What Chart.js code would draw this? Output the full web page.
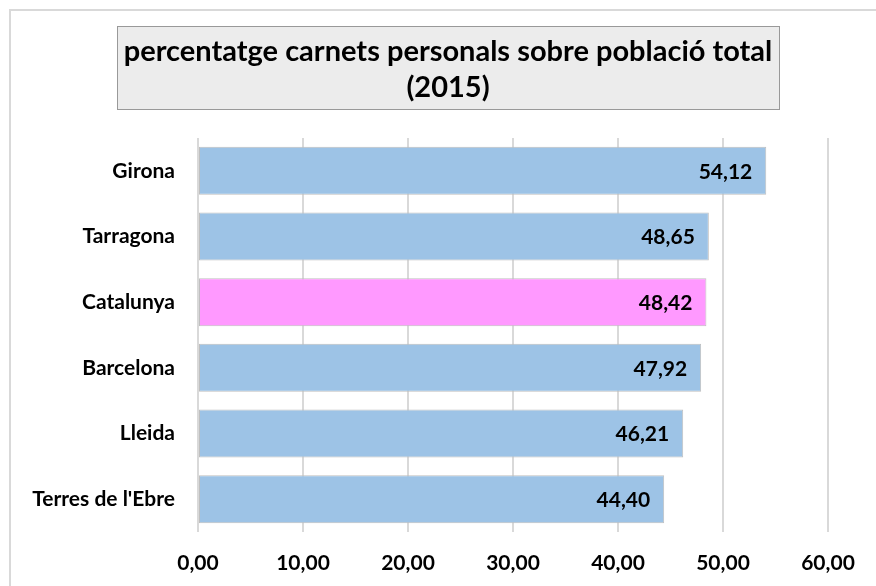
<!DOCTYPE html>
<html>
<head>
<meta charset="utf-8">
<script src="https://cdn.jsdelivr.net/npm/chart.js@4.4.1/dist/chart.umd.min.js"></script>
<style>
  html, body { margin: 0; padding: 0; background: #fff; }
  #wrap { width: 876px; height: 586px; }
</style>
</head>
<body>
<div id="wrap"><canvas id="myChart" width="876" height="586"></canvas></div>
<script>
// chart data
const categories = ['Girona', 'Tarragona', 'Catalunya', 'Barcelona', 'Lleida', "Terres de l'Ebre"];
const values = [54.12, 48.65, 48.42, 47.92, 46.21, 44.40];
const barColors = ['#9dc3e6', '#9dc3e6', '#ff99ff', '#9dc3e6', '#9dc3e6', '#9dc3e6'];
const titleLines = ['percentatge carnets personals sobre població total', '(2015)'];
const xMin = 0, xMax = 60, xStep = 10;

const FONT = 'Lato, "Open Sans", sans-serif';

function fmt(v){
  return Number(v).toFixed(2).replace('.', ',');
}

// frame + title box drawn behind the chart
const frame = {
  id: 'frame',
  beforeDraw(chart){
    const c = chart.ctx;
    c.save();
    c.strokeStyle = '#d9d9d9';
    c.lineWidth = 2;
    c.beginPath();
    c.moveTo(10, 586);
    c.lineTo(10, 10);
    c.lineTo(876, 10);
    c.stroke();

    c.fillStyle = '#ececec';
    c.fillRect(117, 26, 662, 83);
    c.strokeStyle = '#999999';
    c.lineWidth = 1;
    c.strokeRect(117.5, 26.5, 662, 83);

    c.fillStyle = '#000';
    c.font = 'bold 29px ' + FONT;
    c.textAlign = 'center';
    c.textBaseline = 'alphabetic';
    c.fillText(titleLines[0], 448, 61);
    c.fillText(titleLines[1], 448, 97);
    c.restore();
  }
};

// value labels at the end of each bar
const barLabels = {
  id: 'barLabels',
  afterDatasetsDraw(chart){
    const c = chart.ctx;
    const meta = chart.getDatasetMeta(0);
    c.save();
    c.fillStyle = '#000';
    c.font = 'bold 21px ' + FONT;
    c.textAlign = 'right';
    c.textBaseline = 'middle';
    meta.data.forEach((bar, i) => {
      c.fillText(fmt(chart.data.datasets[0].data[i]), bar.x - 14, bar.y + 1);
    });
    c.restore();
  }
};

window.addEventListener("load", function(){
  const ctx = document.getElementById('myChart');
  new Chart(ctx, {
    type: 'bar',
    data: {
      labels: categories,
      datasets: [{
        data: values,
        backgroundColor: barColors,
        borderColor: '#bfbfbf',
        borderWidth: 1,
        borderSkipped: false,
        barPercentage: 0.73,
        categoryPercentage: 1
      }]
    },
    options: {
      indexAxis: 'y',
      responsive: false,
      animation: false,
      layout: { padding: { top: 138, left: 10, right: 48, bottom: 0 } },
      plugins: {
        legend: { display: false },
        title: { display: false },
        tooltip: { enabled: false }
      },
      scales: {
        x: {
          min: xMin,
          max: xMax,
          ticks: {
            stepSize: xStep,
            padding: 19,
            color: '#000',
            font: { family: FONT, size: 21, weight: 'bold' },
            callback: v => fmt(v)
          },
          grid: { color: '#d9d9d9', lineWidth: 2, drawTicks: false },
          border: { display: false },
          afterFit(scale){ scale.height = 54; }
        },
        y: {
          ticks: {
            padding: 23,
            color: '#000',
            font: { family: FONT, size: 21, weight: 'bold' }
          },
          grid: { display: false, drawTicks: false },
          border: { display: false },
          afterFit(scale){ scale.width = 188; }
        }
      }
    },
    plugins: [frame, barLabels]
  });
});
</script>
</body>
</html>
